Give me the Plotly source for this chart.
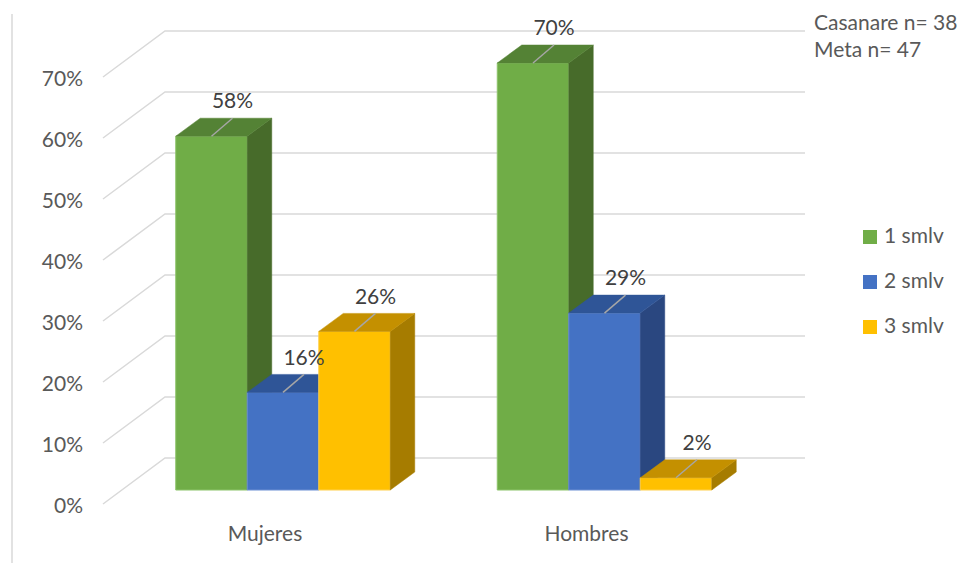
import plotly.graph_objects as go

# ---------------- data ----------------
categories = ["Mujeres", "Hombres"]
series_names = ["1 smlv", "2 smlv", "3 smlv"]
values = {
    "1 smlv": [0.58, 0.70],
    "2 smlv": [0.16, 0.29],
    "3 smlv": [0.26, 0.02],
}
tick_vals = [0.0, 0.1, 0.2, 0.3, 0.4, 0.5, 0.6, 0.7]
tick_text = ["0%", "10%", "20%", "30%", "40%", "50%", "60%", "70%"]
note_lines = ["Casanare n= 38", "Meta n= 47"]

# ---------------- styles ----------------
front_col = {"1 smlv": "#70AD47", "2 smlv": "#4472C4", "3 smlv": "#FFC000"}
top_col = {"1 smlv": "#548235", "2 smlv": "#2F5597", "3 smlv": "#C49000"}
side_col = {"1 smlv": "#476B2A", "2 smlv": "#2A4780", "3 smlv": "#A67C00"}
edge_col = {"1 smlv": "#8CC36A", "2 smlv": "#6C8FD3", "3 smlv": "#FFD04D"}
FONT = "Lato"
FS = 21
W, H = 965, 563

# pixel geometry -> data units
PX_PER_CAT = 321.5        # px between category centres
PX_PER_UNIT = 610.0       # px per 100 %
ORIGIN_X = 283.0          # px of first category centre
ORIGIN_Y = 490.0          # px of 0 on front plane
bar_w = 71.5 / PX_PER_CAT
dx = 24.5 / PX_PER_CAT
dy = 18.0 / PX_PER_UNIT


def ux(px):
    return (px - ORIGIN_X) / PX_PER_CAT


def uy(dpx):
    return dpx / PX_PER_UNIT


def py(px):
    return (ORIGIN_Y - px) / PX_PER_UNIT


x_range = [ux(0), ux(W)]
y_range = [(ORIGIN_Y - H) / PX_PER_UNIT, ORIGIN_Y / PX_PER_UNIT]

fig = go.Figure()

# ---- gridlines (3D wall) ----
gx, gy = [], []
x_front, x_back, x_right = ux(103), ux(165), ux(805)
for t in tick_vals:
    yf = t - uy(14)
    yb = t + uy(32)
    gx += [x_front, x_back, x_right, None]
    gy += [yf, yb, yb, None]
fig.add_trace(go.Scatter(x=gx, y=gy, mode="lines", line=dict(color="#D9D9D9", width=1.5),
                         hoverinfo="skip", showlegend=False))

# ---- bars (front, side, top faces) ----
label_x, label_y, label_t = [], [], []
lead_x, lead_y = [], []
for gi, cat in enumerate(categories):
    for si, s in enumerate(series_names):
        v = values[s][gi]
        x0 = gi + (si - 1.5) * bar_w
        x1 = x0 + bar_w
        # front
        fig.add_trace(go.Scatter(x=[x0, x1, x1, x0, x0], y=[0, 0, v, v, 0], mode="lines",
                                 fill="toself", fillcolor=front_col[s],
                                 line=dict(color=edge_col[s], width=1),
                                 hoverinfo="skip", showlegend=False))
        # side
        fig.add_trace(go.Scatter(x=[x1, x1 + dx, x1 + dx, x1, x1], y=[0, dy, v + dy, v, 0],
                                 mode="lines", fill="toself", fillcolor=side_col[s],
                                 line=dict(color=side_col[s], width=0.5),
                                 hoverinfo="skip", showlegend=False))
        # top
        fig.add_trace(go.Scatter(x=[x0, x0 + dx, x1 + dx, x1, x0], y=[v, v + dy, v + dy, v, v],
                                 mode="lines", fill="toself", fillcolor=top_col[s],
                                 line=dict(color=top_col[s], width=0.5),
                                 hoverinfo="skip", showlegend=False))
        xc = (x0 + x1) / 2
        lead_x += [xc, xc + 21 / PX_PER_CAT, None]
        lead_y += [v, v + uy(18), None]
        label_x.append(xc + 21 / PX_PER_CAT)
        label_y.append(v + uy(33))
        label_t.append(f"{round(v * 100):.0f}%")

fig.add_trace(go.Scatter(x=lead_x, y=lead_y, mode="lines", line=dict(color="#A6A6A6", width=1.5),
                         hoverinfo="skip", showlegend=False))
fig.add_trace(go.Scatter(x=label_x, y=label_y, mode="text", text=label_t,
                         textfont=dict(family=FONT, size=FS, color="#404040"),
                         hoverinfo="skip", showlegend=False))

# ---- value-axis tick labels ----
fig.add_trace(go.Scatter(x=[ux(83)] * len(tick_vals), y=[t - uy(18) for t in tick_vals],
                         mode="text", text=tick_text, textposition="middle left",
                         textfont=dict(family=FONT, size=FS, color="#595959"),
                         hoverinfo="skip", showlegend=False))

# ---- category labels ----
fig.add_trace(go.Scatter(x=[gi - 18 / PX_PER_CAT for gi in range(len(categories))],
                         y=[-uy(46)] * len(categories), mode="text", text=categories,
                         textfont=dict(family=FONT, size=FS, color="#595959"),
                         hoverinfo="skip", showlegend=False))

# ---- legend (drawn manually for exact spacing) ----
leg_y = [py(237 + 45 * i) for i in range(len(series_names))]
fig.add_trace(go.Scatter(x=[ux(870)] * len(series_names), y=leg_y, mode="markers",
                         marker=dict(symbol="square", size=14, color=[front_col[s] for s in series_names]),
                         hoverinfo="skip", showlegend=False))
fig.add_trace(go.Scatter(x=[ux(884)] * len(series_names), y=[v - uy(1) for v in leg_y], mode="text",
                         text=series_names, textposition="middle right",
                         textfont=dict(family=FONT, size=FS, color="#595959"),
                         hoverinfo="skip", showlegend=False))

fig.add_annotation(text="<br>".join(note_lines), xref="paper", yref="paper", x=812 / W, y=1 - 7 / H,
                   xanchor="left", yanchor="top", align="left", showarrow=False,
                   font=dict(family=FONT, size=FS, color="#595959"))

fig.add_shape(type="line", xref="paper", yref="paper", x0=12 / W, x1=12 / W, y0=0, y1=1 - 14 / H,
              line=dict(color="#D9D9D9", width=1.5))

fig.update_layout(
    width=W, height=H,
    margin=dict(l=0, r=0, t=0, b=0),
    paper_bgcolor="white", plot_bgcolor="white",
    xaxis=dict(range=x_range, visible=False, fixedrange=True),
    yaxis=dict(range=y_range, visible=False, fixedrange=True),
    showlegend=False,
)

fig.write_html("out.html")
